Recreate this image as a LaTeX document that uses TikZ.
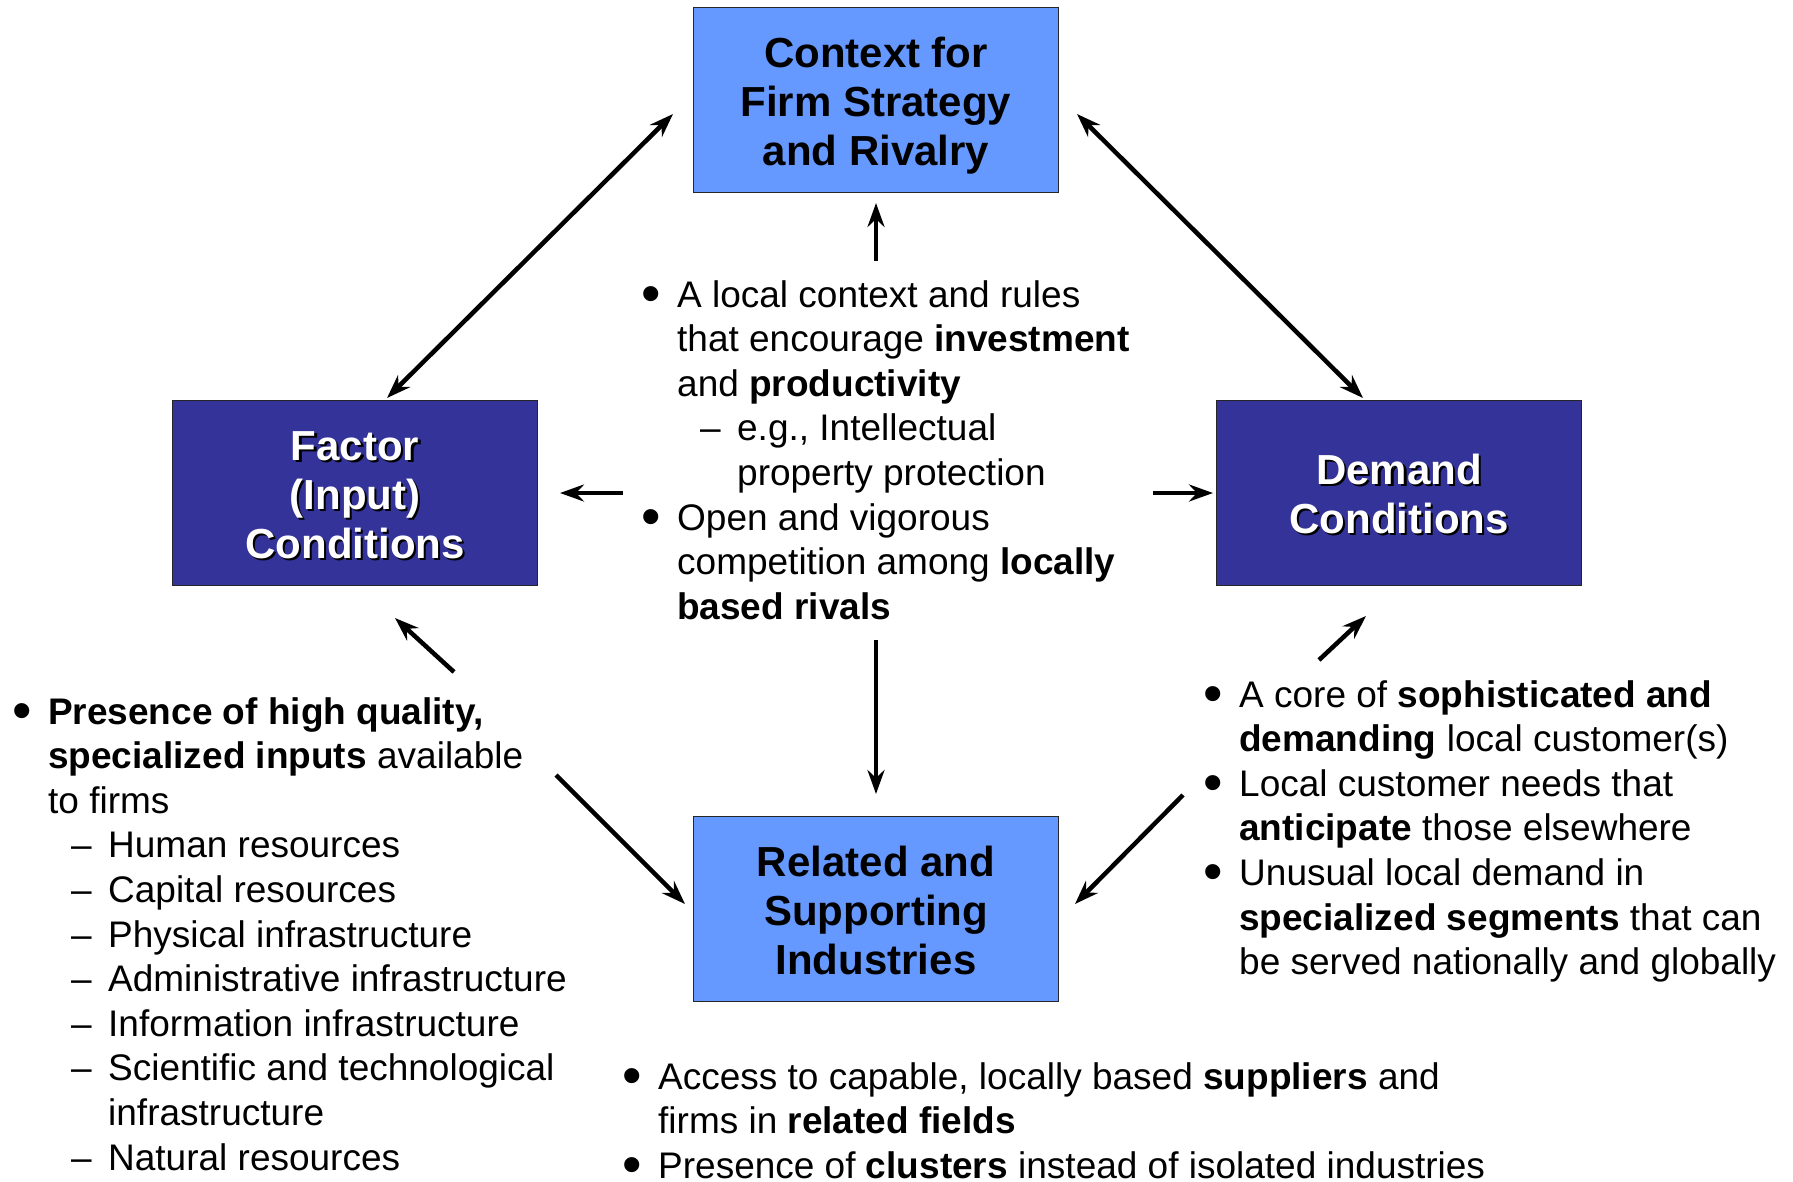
\documentclass[tikz,border=0pt]{standalone}
\usepackage{fontspec}
\usepackage{graphicx}
\setmainfont{Liberation Sans}
\usetikzlibrary{arrows.meta}
\definecolor{lightbox}{HTML}{6699FF}
\definecolor{darkbox}{HTML}{333399}
\newcommand{\topstrut}{\rule{0pt}{45pt}}
\newcommand{\botstrut}{\rule[-13pt]{0pt}{13pt}}
\newcommand{\shtext}[1]{\rlap{\hspace{2.2pt}\raisebox{-2.2pt}{\textcolor{black}{#1}}}#1}
\newcommand{\bdot}{\raisebox{-5.5pt}{\scalebox{1.5}{•}}}
\newcommand{\bul}{\makebox[34pt][l]{\hspace{-1.7pt}\bdot}}
\newcommand{\cont}{\hspace*{34pt}}
\newcommand{\subit}{\hspace*{57pt}\makebox[37pt][l]{–}}
\newcommand{\blk}[1]{\begin{minipage}[t]{900pt}\raggedright #1\end{minipage}}
\tikzset{
  boxbase/.style={rectangle, draw=black!85, line width=1.5pt, minimum width=365pt,
    minimum height=185pt, inner sep=0pt, align=center,
    font=\fontsize{42pt}{49pt}\selectfont\bfseries},
  lightnode/.style={boxbase, fill=lightbox, text=black},
  darknode/.style={boxbase, fill=darkbox, text=white},
  bodytext/.style={anchor=base west, inner sep=0pt, font=\fontsize{37pt}{44.6pt}\selectfont},
  arr/.style={line width=4.5pt, -{Stealth[length=24pt,width=17pt,inset=8pt]}},
  darr/.style={line width=4.5pt, {Stealth[length=24pt,width=17pt,inset=8pt]}-{Stealth[length=24pt,width=17pt,inset=8pt]}}
}
\begin{document}
\begin{tikzpicture}[x=1pt,y=-1pt]
\fill[white] (0,0) rectangle (1793,1181);
\useasboundingbox (0,0) rectangle (1793,1181);

% boxes
\node[lightnode] (ctx) at (876,100) {\topstrut Context for\\Firm Strategy\\\botstrut and Rivalry};
\node[darknode] (fac) at (355,493) {\topstrut\shtext{Factor}\\\shtext{(Input)}\\\botstrut\shtext{Conditions}};
\node[darknode] (dem) at (1399,493) {\topstrut\shtext{Demand}\\\botstrut\shtext{Conditions}};
\node[lightnode] (rel) at (876,909) {\topstrut Related and\\Supporting\\\botstrut Industries};

% text blocks
\node[bodytext] (ctxtext) at (643,307) {\blk{%
\bul A local context and rules\\
\cont that encourage \textbf{investment}\\
\cont and \textbf{productivity}\\
\subit e.g., Intellectual\\
\hspace*{94pt}property protection\\
\bul Open and vigorous\\
\cont competition among \textbf{locally}\\
\cont \textbf{based rivals}}};

\node[bodytext] (factext) at (14,724) {\blk{%
\bul \textbf{Presence of high quality,}\\
\cont \textbf{specialized inputs} available\\
\cont to firms\\
\subit Human resources\\
\subit Capital resources\\
\subit Physical infrastructure\\
\subit Administrative infrastructure\\
\subit Information infrastructure\\
\subit Scientific and technological\\
\hspace*{94pt}infrastructure\\
\subit Natural resources}};

\node[bodytext] (demtext) at (1205,707) {\blk{%
\bul A core of \textbf{sophisticated and}\\
\cont \textbf{demanding} local customer(s)\\
\bul Local customer needs that\\
\cont \textbf{anticipate} those elsewhere\\
\bul Unusual local demand in\\
\cont \textbf{specialized segments} that can\\
\cont be served nationally and globally}};

\node[bodytext] (reltext) at (624,1089) {\blk{%
\bul Access to capable, locally based \textbf{suppliers} and\\
\cont firms in \textbf{related fields}\\
\bul Presence of \textbf{clusters} instead of isolated industries}};

% connector end points
\coordinate (c1a) at (673,114);
\coordinate (c1b) at (387,398);
\coordinate (c2a) at (1077,114);
\coordinate (c2b) at (1363,398);
\coordinate (c3a) at (876,261);
\coordinate (c3b) at (876,203);
\coordinate (c4a) at (623,493);
\coordinate (c4b) at (560,493);
\coordinate (c5a) at (1153,493);
\coordinate (c5b) at (1213,493);
\coordinate (c6a) at (876,640);
\coordinate (c6b) at (876,794);
\coordinate (c7a) at (454,672);
\coordinate (c7b) at (395,618);
\coordinate (c8a) at (556,775);
\coordinate (c8b) at (685,904);
\coordinate (c9a) at (1319,660);
\coordinate (c9b) at (1366,616);
\coordinate (c10a) at (1183,795);
\coordinate (c10b) at (1075,904);

\draw[darr] (c1a) -- (c1b);
\draw[darr] (c2a) -- (c2b);
\draw[arr] (c3a) -- (c3b);
\draw[arr] (c4a) -- (c4b);
\draw[arr] (c5a) -- (c5b);
\draw[arr] (c6a) -- (c6b);
\draw[arr] (c7a) -- (c7b);
\draw[arr] (c8a) -- (c8b);
\draw[arr] (c9a) -- (c9b);
\draw[arr] (c10a) -- (c10b);
\end{tikzpicture}
\end{document}
